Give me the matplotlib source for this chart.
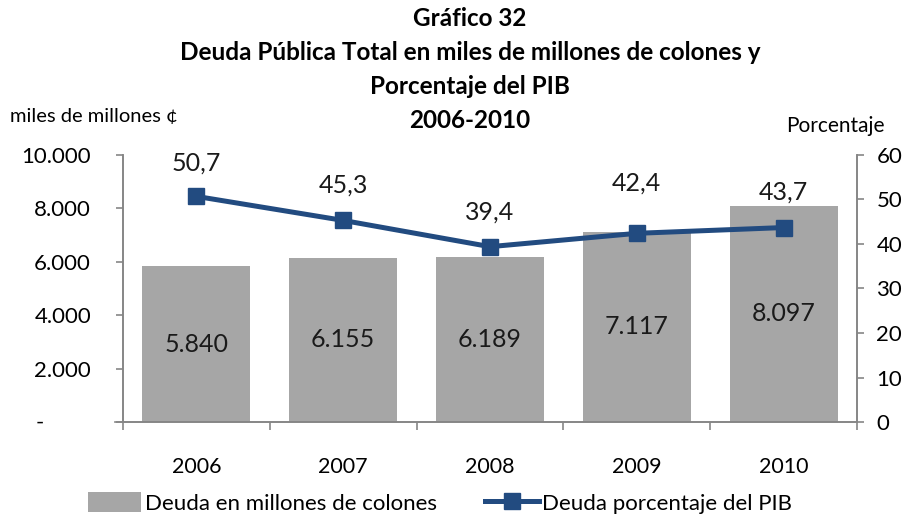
import matplotlib
matplotlib.use("Agg")
import matplotlib.pyplot as plt
from matplotlib.ticker import FuncFormatter, FixedLocator
from matplotlib.lines import Line2D
from matplotlib.patches import Patch

plt.rcParams["font.family"] = ["Lato", "DejaVu Sans"]

# ========= datos =========
years = ["2006", "2007", "2008", "2009", "2010"]
deuda = [5840, 6155, 6189, 7117, 8097]
pct_pib = [50.7, 45.3, 39.4, 42.4, 43.7]
deuda_labels = ["5.840", "6.155", "6.189", "7.117", "8.097"]
pct_labels = ["50,7", "45,3", "39,4", "42,4", "43,7"]
# desplazamiento vertical (px) de las etiquetas de la línea
pct_offsets = [33, 35, 35, 50, 35]

bar_color = "#A6A6A6"
line_color = "#224B80"
axis_color = "#868686"

W, H = 909, 514
fig = plt.figure(figsize=(W / 100, H / 100), dpi=100)
ax = fig.add_axes([123 / W, (H - 422) / H, 734 / W, (422 - 155) / H])
ax2 = ax.twinx()

x = list(range(len(years)))
ax.bar(x, deuda, width=0.735, color=bar_color, zorder=2)
for xi, v, lab in zip(x, deuda, deuda_labels):
    ax.text(xi, v / 2, lab, ha="center", va="center", fontsize=18, color="#1a1a1a")

ax2.plot(x, pct_pib, color=line_color, lw=3.6, marker="s", ms=12,
         markerfacecolor=line_color, markeredgecolor=line_color, zorder=3)
for xi, v, lab, off in zip(x, pct_pib, pct_labels, pct_offsets):
    ax2.annotate(lab, (xi, v), xytext=(0, off), textcoords="offset pixels",
                 ha="center", va="center", fontsize=18, color="#1a1a1a")

ax.set_xlim(-0.5, len(years) - 0.5)
ax.set_ylim(0, 10000)
ax2.set_ylim(0, 60)

ax.set_yticks(range(0, 10001, 2000))
ax.yaxis.set_major_formatter(
    FuncFormatter(lambda v, p: "" if v == 0 else f"{int(v):,}".replace(",", "."))
)
ax2.set_yticks(range(0, 61, 10))

ax.set_xticks(x)
ax.set_xticklabels(years)
ax.xaxis.set_minor_locator(FixedLocator([i - 0.5 for i in range(len(years) + 1)]))

for a in (ax, ax2):
    a.spines["top"].set_visible(False)
    for s in ("left", "right", "bottom"):
        a.spines[s].set_color(axis_color)
        a.spines[s].set_linewidth(1.2)
    a.set_facecolor("none")

ax.tick_params(axis="y", length=5, width=1.2, color=axis_color, labelsize=16, pad=18)
ax2.tick_params(axis="y", length=5, width=1.2, color=axis_color, labelsize=16, pad=9)
ax.tick_params(axis="x", which="major", length=0, labelsize=15.5, pad=25)
ax.tick_params(axis="x", which="minor", length=6, width=1.2, color=axis_color)

# extensión del eje inferior hacia la izquierda
fig.add_artist(Line2D([115 / W, 123 / W], [(H - 422) / H] * 2, color=axis_color, lw=1.2))
fig.text(40 / W, (H - 423) / H, "-", fontsize=16, ha="center", va="center")

title_lines = ["Gráfico 32",
               "Deuda Pública Total en miles de millones de colones y",
               "Porcentaje del PIB",
               "2006-2010"]
for i, t in enumerate(title_lines):
    fig.text(470 / W, (H - 18 - 34 * i) / H, t, ha="center", va="center",
             fontsize=17.5, fontweight="bold")

fig.text(10 / W, (H - 117) / H, "miles de millones ¢", ha="left", va="center", fontsize=14.5)
fig.text(835 / W, (H - 126) / H, "Porcentaje", ha="center", va="center", fontsize=15)

handles = [Patch(facecolor=bar_color, edgecolor="none"),
           Line2D([], [], color=line_color, lw=3.6, marker="s", ms=12)]
fig.legend(handles, ["Deuda en millones de colones", "Deuda porcentaje del PIB"],
           loc="center", bbox_to_anchor=(440 / W, (H - 503) / H), ncol=2,
           frameon=False, fontsize=16, handlelength=2.4, handleheight=1.0,
           columnspacing=2.2, handletextpad=0.15)

fig.savefig("out.png", dpi=100)
